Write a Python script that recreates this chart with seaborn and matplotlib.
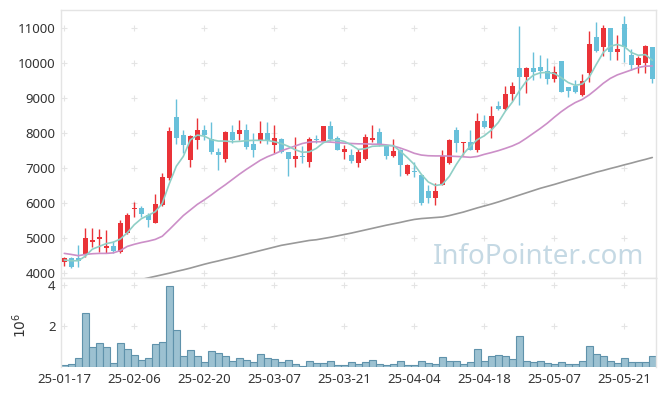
import numpy as np
import pandas as pd
import matplotlib
matplotlib.use("Agg")
import matplotlib.pyplot as plt
import seaborn as sns

# trading days (YY-MM-DD)
dates = ["25-01-17", "25-01-20", "25-01-21", "25-01-22", "25-01-23", "25-01-24", "25-01-31",
         "25-02-03", "25-02-04", "25-02-05", "25-02-06", "25-02-07", "25-02-10", "25-02-11",
         "25-02-12", "25-02-13", "25-02-14", "25-02-17", "25-02-18", "25-02-19", "25-02-20",
         "25-02-21", "25-02-24", "25-02-25", "25-02-26", "25-02-27", "25-02-28", "25-03-04",
         "25-03-05", "25-03-06", "25-03-07", "25-03-10", "25-03-11", "25-03-12", "25-03-13",
         "25-03-14", "25-03-17", "25-03-18", "25-03-19", "25-03-20", "25-03-21", "25-03-24",
         "25-03-25", "25-03-26", "25-03-27", "25-03-28", "25-03-31", "25-04-01", "25-04-02",
         "25-04-03", "25-04-04", "25-04-07", "25-04-08", "25-04-09", "25-04-10", "25-04-11",
         "25-04-14", "25-04-15", "25-04-16", "25-04-17", "25-04-18", "25-04-21", "25-04-22",
         "25-04-23", "25-04-24", "25-04-25", "25-04-28", "25-04-29", "25-04-30", "25-05-02",
         "25-05-07", "25-05-08", "25-05-09", "25-05-12", "25-05-13", "25-05-14", "25-05-15",
         "25-05-16", "25-05-19", "25-05-20", "25-05-21", "25-05-22", "25-05-23", "25-05-26",
         "25-05-27"]

opens = [4300, 4420, 4420, 4500, 4890, 4980, 4720, 4770, 4610, 5130,
         5820, 5860, 5660, 5440, 5940, 6700, 8470, 7940, 7230, 7800,
         8090, 7820, 7470, 7260, 8040, 7970, 8090, 7690, 7780, 8010,
         7660, 7820, 7470, 7260, 7340, 7180, 7830, 7730, 8200, 7850,
         7470, 7370, 7150, 7260, 7800, 8020, 7660, 7340, 7510, 6830,
         6910, 6800, 6340, 6130, 6510, 7130, 8090, 7700, 7750, 7500,
         8350, 8130, 8770, 8680, 9110, 9850, 9590, 9850, 9880, 9780,
         9530, 10060, 9300, 9340, 9090, 9700, 10750, 10470, 10990, 10300,
         11110, 10230, 9940, 9990, 10450]
highs = [4460, 4450, 4800, 5275, 5275, 5250, 5230, 4900, 5500, 5720,
         6040, 5910, 5720, 6260, 6850, 8180, 8960, 8090, 7940, 8420,
         8230, 8320, 7560, 8070, 8230, 8370, 8260, 7990, 8330, 8300,
         8230, 7850, 7470, 7880, 7630, 7880, 7940, 8200, 8330, 7900,
         7660, 7530, 7530, 7970, 8230, 8130, 7660, 7820, 7530, 7110,
         7180, 6800, 6510, 6580, 7500, 7820, 8180, 7750, 8090, 8560,
         8510, 8770, 8920, 9340, 9470, 11060, 9880, 10300, 10230, 10130,
         9900, 10060, 9300, 9510, 9680, 10920, 11180, 11090, 10990, 10800,
         11340, 10400, 10210, 10510, 10450]
lows = [4200, 4130, 4180, 4470, 4730, 4610, 4560, 4560, 4580, 5110,
        5590, 5590, 5320, 5420, 5910, 6660, 7680, 7420, 7020, 7530,
        7800, 7400, 6940, 7170, 7700, 7800, 7530, 7300, 7700, 7680,
        7440, 7440, 6780, 7020, 7150, 7020, 7700, 7730, 7780, 7500,
        7260, 7150, 7020, 7230, 7750, 7640, 7250, 7300, 6780, 6800,
        6750, 5940, 6010, 5940, 6510, 7110, 7470, 7370, 7500, 7470,
        8130, 7850, 8660, 8660, 8920, 8800, 9130, 9510, 9560, 9400,
        9470, 9160, 9020, 9130, 9070, 9470, 10320, 10200, 10090, 10090,
        10040, 9800, 9700, 9700, 9420]
closes = [4420, 4180, 4350, 5000, 4940, 5040, 4780, 4640, 5420, 5660,
          5870, 5690, 5500, 5970, 6750, 8060, 7870, 7660, 7900, 8090,
          7940, 7470, 7370, 8040, 7800, 8090, 7610, 7510, 8010, 7780,
          7850, 7470, 7260, 7340, 7300, 7820, 7800, 8200, 7820, 7510,
          7540, 7200, 7470, 7880, 7870, 7660, 7340, 7490, 7090, 7090,
          6880, 5990, 6130, 6340, 7340, 7800, 7700, 7750, 7510, 8350,
          8160, 8490, 8680, 9110, 9340, 9590, 9870, 9750, 9780, 9530,
          9730, 9180, 9190, 9180, 9490, 10540, 10350, 10990, 10300, 10400,
          10470, 9940, 10130, 10490, 9530]

ma5 = [4370, 4350, 4350, 4480, 4680, 4760, 4840, 4880, 4970, 5150,
       5380, 5550, 5650, 5750, 5990, 6550, 7050, 7330, 7800, 7940,
       7910, 7810, 7770, 7770, 7750, 7760, 7780, 7790, 7790, 7790,
       7750, 7700, 7620, 7520, 7450, 7460, 7560, 7720, 7800, 7800,
       7760, 7660, 7530, 7550, 7620, 7630, 7640, 7640, 7480, 7300,
       7100, 6820, 6600, 6500, 6530, 6760, 7100, 7400, 7620, 7810,
       7920, 8080, 8300, 8620, 8880, 9200, 9480, 9650, 9720, 9730,
       9700, 9580, 9440, 9360, 9400, 9600, 9960, 10300, 10480, 10530,
       10470, 10300, 10220, 10240, 10080]
ma20 = [4560, 4530, 4495, 4530, 4550, 4560, 4560, 4575, 4640, 4760,
        4820, 4870, 4910, 4960, 5050, 5240, 5440, 5640, 5800, 5960,
        6090, 6230, 6380, 6520, 6670, 6820, 6960, 7090, 7220, 7320,
        7400, 7490, 7560, 7630, 7700, 7740, 7750, 7750, 7740, 7725,
        7710, 7700, 7690, 7690, 7680, 7680, 7660, 7630, 7570, 7500,
        7420, 7370, 7350, 7345, 7345, 7340, 7330, 7320, 7305, 7330,
        7390, 7440, 7495, 7560, 7630, 7720, 7850, 7990, 8130, 8280,
        8450, 8610, 8750, 8870, 8960, 9090, 9250, 9420, 9560, 9660,
        9730, 9800, 9870, 9910, 9915]
ma60 = [3300, 3345, 3390, 3440, 3485, 3530, 3580, 3625, 3670, 3720,
        3765, 3815, 3860, 3905, 3950, 3995, 4045, 4090, 4140, 4195,
        4250, 4300, 4345, 4395, 4440, 4490, 4540, 4590, 4640, 4690,
        4740, 4790, 4825, 4860, 4895, 4930, 4950, 4985, 5020, 5060,
        5100, 5140, 5185, 5230, 5275, 5320, 5365, 5405, 5445, 5490,
        5530, 5555, 5570, 5585, 5600, 5640, 5690, 5740, 5800, 5860,
        5915, 5970, 6030, 6095, 6160, 6225, 6290, 6355, 6420, 6475,
        6530, 6590, 6650, 6705, 6765, 6820, 6880, 6930, 6985, 7035,
        7090, 7140, 7195, 7245, 7300]

# volume in millions of shares
volume = [0.10, 0.13, 0.42, 2.63, 0.96, 1.16, 0.96, 0.18, 1.16, 0.87,
          0.57, 0.33, 0.42, 1.11, 1.21, 3.95, 1.80, 0.52, 0.82, 0.52,
          0.25, 0.77, 0.67, 0.52, 0.28, 0.42, 0.33, 0.23, 0.62, 0.42,
          0.38, 0.23, 0.33, 0.13, 0.03, 0.28, 0.18, 0.18, 0.28, 0.08,
          0.08, 0.23, 0.13, 0.23, 0.33, 0.13, 0.08, 0.13, 0.28, 0.08,
          0.08, 0.28, 0.18, 0.13, 0.47, 0.28, 0.28, 0.13, 0.23, 0.87,
          0.28, 0.52, 0.57, 0.52, 0.38, 1.50, 0.28, 0.23, 0.28, 0.18,
          0.13, 0.23, 0.13, 0.13, 0.28, 1.01, 0.62, 0.52, 0.28, 0.18,
          0.42, 0.23, 0.23, 0.23, 0.52]

RED = "#ea3338"
BLUE = "#68c0da"
TEAL = "#8fcfc6"
PURPLE = "#cc8fc8"
GREY = "#999999"
GRIDC = "#e4e4e4"
SPINE = "#e4e4e4"
TXT = "#333333"

sns.set_theme(style="white")
plt.rcParams["font.family"] = ["Noto Sans", "DejaVu Sans"]

df = pd.DataFrame({"date": dates, "open": opens, "high": highs, "low": lows,
                   "close": closes, "ma5": ma5, "ma20": ma20, "ma60": ma60,
                   "volume": volume})
df["pos"] = np.arange(len(df))
up = df["close"] >= df["open"]
colors = np.where(up, RED, BLUE)

W, H = 665, 396
fig = plt.figure(figsize=(W / 100, H / 100), dpi=100)
ax = fig.add_axes([61 / W, 1 - 278 / H, 595 / W, 268 / H])
axv = fig.add_axes([61 / W, 1 - 367 / H, 595 / W, 89 / H])

# candles
ax.vlines(df["pos"], df["low"], df["high"], colors=colors, linewidth=1.0, zorder=3)
ax.bar(df["pos"], (df["close"] - df["open"]).abs(), bottom=df[["open", "close"]].min(axis=1),
       width=0.66, color=colors, linewidth=0, zorder=4)

# moving averages
sns.lineplot(data=df, x="pos", y="ma60", color=GREY, linewidth=1.2, ax=ax, zorder=5)
sns.lineplot(data=df, x="pos", y="ma20", color=PURPLE, linewidth=1.2, ax=ax, zorder=5)
sns.lineplot(data=df, x="pos", y="ma5", color=TEAL, linewidth=1.2, ax=ax, zorder=6)

# volume
sns.barplot(data=df, x="pos", y="volume", native_scale=True, width=1, color="#9cc1d1",
            edgecolor="#5f92ab", linewidth=0.8, saturation=1, errorbar=None, ax=axv)

xlim = (-0.47, 84.53)
xt = df["pos"][::10]
for a in (ax, axv):
    a.set_xlim(*xlim)
    a.set_xticks(xt)
    a.set_xlabel("")
    a.set_ylabel("")
    a.tick_params(length=0, labelsize=9.5, colors=TXT, pad=4)
    for s in a.spines.values():
        s.set_color(SPINE)
        s.set_linewidth(1)

ax.set_ylim(3857, 11514)
ax.set_yticks(range(4000, 11001, 1000))
ax.set_xticklabels([])
axv.set_ylim(0, 4.36)
axv.set_yticks([2, 4])
axv.set_yticklabels(["2", "4"])
axv.set_xticklabels(df["date"][::10])
axv.spines["bottom"].set_visible(False)
axv.set_ylabel("$10^6$", fontsize=10, color=TXT)
axv.yaxis.set_label_coords(-0.052, 0.47)

# grid as small crosses
for a, yt in ((ax, ax.get_yticks()), (axv, axv.get_yticks())):
    gx, gy = np.meshgrid(xt, yt)
    a.scatter(gx.ravel(), gy.ravel(), marker="+", s=14, color=GRIDC, linewidths=0.8, zorder=1)

ax.text(0.803, 0.078, "InfoPointer.com", transform=ax.transAxes, ha="center", va="center",
        fontsize=20, color="#c5d9e4", zorder=2)

fig.savefig("out.png", dpi=100)
